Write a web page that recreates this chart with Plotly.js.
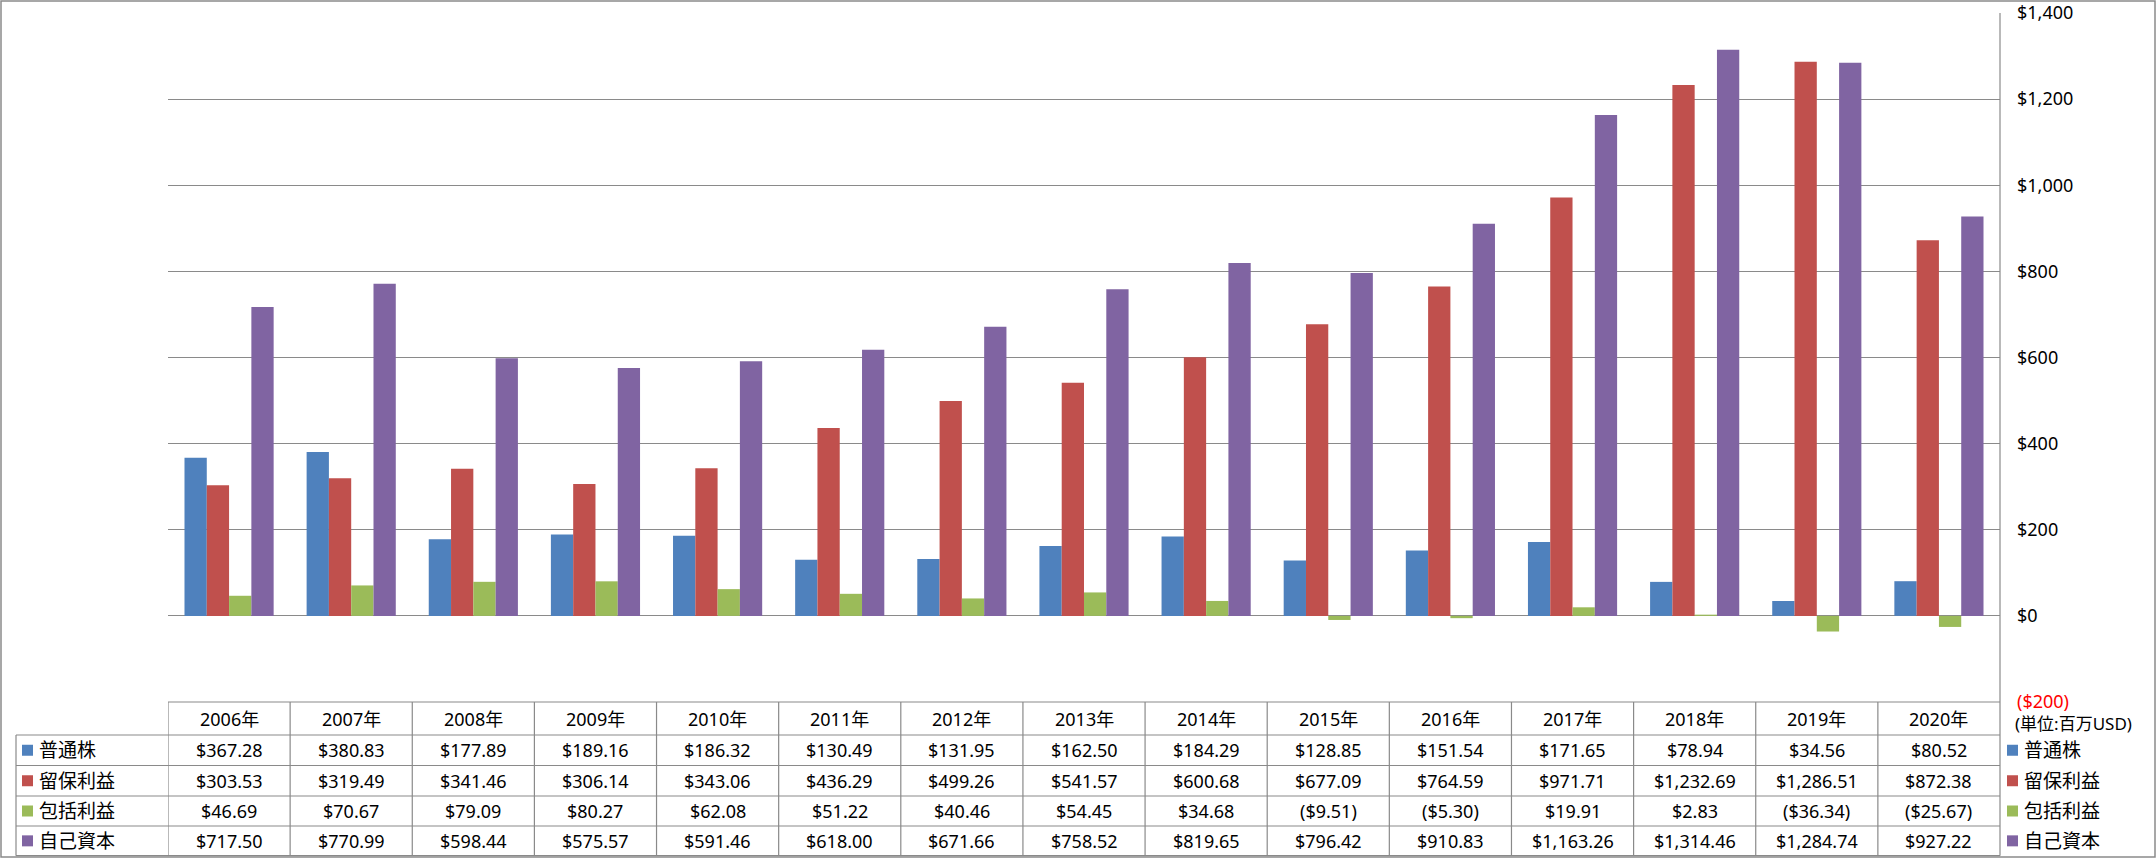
<!DOCTYPE html>
<html>
<head>
<meta charset="utf-8">
<script src="https://cdn.plot.ly/plotly-3.0.1.min.js"></script>
<style>
  html, body { margin: 0; padding: 0; background: #ffffff; }
  #chart { width: 2156px; height: 858px; }
</style>
</head>
<body>
<div id="chart"></div>
<script>
// ---------- data ----------
const categories = ['2006年','2007年','2008年','2009年','2010年','2011年','2012年','2013年','2014年','2015年','2016年','2017年','2018年','2019年','2020年'];
const seriesNames = ['普通株','留保利益','包括利益','自己資本'];
const commonStock = [367.28, 380.83, 177.89, 189.16, 186.32, 130.49, 131.95, 162.50, 184.29, 128.85, 151.54, 171.65, 78.94, 34.56, 80.52];
const retainedEarnings = [303.53, 319.49, 341.46, 306.14, 343.06, 436.29, 499.26, 541.57, 600.68, 677.09, 764.59, 971.71, 1232.69, 1286.51, 872.38];
const comprehensiveIncome = [46.69, 70.67, 79.09, 80.27, 62.08, 51.22, 40.46, 54.45, 34.68, -9.51, -5.30, 19.91, 2.83, -36.34, -25.67];
const totalEquity = [717.50, 770.99, 598.44, 575.57, 591.46, 618.00, 671.66, 758.52, 819.65, 796.42, 910.83, 1163.26, 1314.46, 1284.74, 927.22];
const yTickValues = [-200, 0, 200, 400, 600, 800, 1000, 1200, 1400];
const unitLabel = '(単位:百万USD)';

// ---------- style ----------
const seriesColors = ['#4F81BD', '#C0504D', '#9BBB59', '#8064A2'];
const lineGrey = '#8A8A8A';
const FONT = 'Noto Sans, Noto Sans CJK JP, sans-serif';
const W = 2156, H = 858;
const PL = 168, PR = 2000, PT = 13, PB = 702;
const pw = PR - PL, ph = PB - PT;
const px = v => (v - PL) / pw;      // pixel x -> paper
const py = v => (PB - v) / ph;      // pixel y -> paper

function money(v) {
  const s = '$' + Math.abs(v).toLocaleString('en-US', {minimumFractionDigits: 2, maximumFractionDigits: 2});
  return v < 0 ? '(' + s + ')' : s;
}
function moneyTick(v) {
  const s = '$' + Math.abs(v).toLocaleString('en-US');
  return v < 0 ? '<span style="color:#FF0000">(' + s + ')</span>' : s;
}

const seriesData = [commonStock, retainedEarnings, comprehensiveIncome, totalEquity];
const traces = seriesData.map((vals, i) => ({
  type: 'bar',
  name: seriesNames[i],
  x: categories,
  y: vals,
  marker: {color: seriesColors[i], line: {width: 0}},
  hoverinfo: 'skip'
}));

// ---------- table geometry ----------
const headerTop = 702, rowLines = [735, 765.5, 796, 826, 855.7];
const labelLeft = 16;
const rowCenters = [];
for (let r = 0; r < 4; r++) rowCenters.push((rowLines[r] + rowLines[r + 1]) / 2);
const headerCenter = (headerTop + rowLines[0]) / 2;

const shapes = [];
const lineStyle = {color: lineGrey, width: 1.2};
// outer frame
shapes.push({type: 'rect', xref: 'paper', yref: 'paper', x0: px(1), x1: px(2155), y0: py(857), y1: py(1), line: {color: lineGrey, width: 1.5}, layer: 'above'});
// right axis line (plot + table)
shapes.push({type: 'line', xref: 'paper', yref: 'paper', x0: 1, x1: 1, y0: py(PT), y1: py(rowLines[4]), line: lineStyle});
// table top line
shapes.push({type: 'line', xref: 'paper', yref: 'paper', x0: 0, x1: 1, y0: py(headerTop), y1: py(headerTop), line: lineStyle});
// table horizontal lines
rowLines.forEach(y => shapes.push({type: 'line', xref: 'paper', yref: 'paper', x0: px(labelLeft), x1: 1, y0: py(y), y1: py(y), line: lineStyle}));
// label column left line
shapes.push({type: 'line', xref: 'paper', yref: 'paper', x0: px(labelLeft), x1: px(labelLeft), y0: py(rowLines[0]), y1: py(rowLines[4]), line: lineStyle});
// column separators
for (let k = 0; k < categories.length; k++) {
  shapes.push({type: 'line', xref: 'x', yref: 'paper', x0: k - 0.5, x1: k - 0.5, y0: py(headerTop), y1: py(rowLines[4]), line: lineStyle});
}
// legend keys (left column and right legend)
for (let r = 0; r < 4; r++) {
  const c = rowCenters[r];
  shapes.push({type: 'rect', xref: 'paper', yref: 'paper', x0: px(22), x1: px(33), y0: py(c + 5.5), y1: py(c - 5.5), fillcolor: seriesColors[r], line: {width: 0}});
  shapes.push({type: 'rect', xref: 'paper', yref: 'paper', x0: px(2007), x1: px(2018), y0: py(c + 5.5), y1: py(c - 5.5), fillcolor: seriesColors[r], line: {width: 0}});
}

const annotations = [];
const cellFont = {family: FONT, size: 18, color: '#000000'};
const labelFont = {family: FONT, size: 19, color: '#000000'};
categories.forEach((cat, i) => {
  annotations.push({xref: 'x', yref: 'paper', x: cat, y: py(headerCenter), text: cat, showarrow: false, xanchor: 'center', yanchor: 'middle', font: cellFont});
  seriesData.forEach((vals, r) => {
    annotations.push({xref: 'x', yref: 'paper', x: cat, y: py(rowCenters[r]), text: money(vals[i]), showarrow: false, xanchor: 'center', yanchor: 'middle', font: cellFont});
  });
});
seriesNames.forEach((nm, r) => {
  annotations.push({xref: 'paper', yref: 'paper', x: px(37), y: py(rowCenters[r]), text: nm, showarrow: false, xanchor: 'left', yanchor: 'middle', font: labelFont});
  annotations.push({xref: 'paper', yref: 'paper', x: px(2022), y: py(rowCenters[r]), text: nm, showarrow: false, xanchor: 'left', yanchor: 'middle', font: labelFont});
});
annotations.push({xref: 'paper', yref: 'paper', x: px(2013), y: py(724), text: unitLabel, showarrow: false, xanchor: 'left', yanchor: 'middle', font: {family: FONT, size: 17, color: '#000000'}});

const layout = {
  width: W, height: H,
  margin: {l: PL, r: W - PR, t: PT, b: H - PB, pad: 0},
  paper_bgcolor: '#ffffff', plot_bgcolor: '#ffffff',
  showlegend: false,
  barmode: 'group', bargap: 0.27, bargroupgap: 0,
  font: {family: FONT, size: 18, color: '#000000'},
  xaxis: {type: 'category', range: [-0.5, categories.length - 0.5], showticklabels: false, showgrid: false, zeroline: false, showline: false, ticks: '', fixedrange: true},
  yaxis: {
    side: 'right', range: [-200, 1400], tickvals: yTickValues, ticktext: yTickValues.map(moneyTick),
    showgrid: true, gridcolor: lineGrey, gridwidth: 1.2,
    zeroline: true, zerolinecolor: lineGrey, zerolinewidth: 1.2,
    showline: false, ticks: '', ticklabelstandoff: 16,
    tickfont: {family: FONT, size: 18, color: '#000000'}, fixedrange: true, automargin: false
  },
  shapes: shapes,
  annotations: annotations
};

Plotly.newPlot('chart', traces, layout, {staticPlot: true, displayModeBar: false});
</script>
</body>
</html>
